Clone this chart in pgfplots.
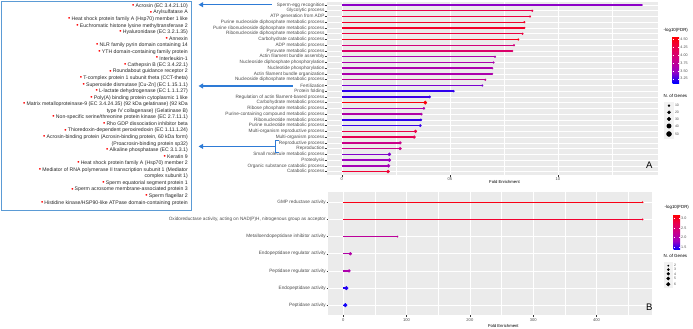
\documentclass[border=0pt]{standalone}
\usepackage{pgfplots}
\pgfplotsset{compat=1.18}
\usepackage{pgfplotstable}
\usepackage{fontspec}
\setmainfont{Liberation Sans}
\usetikzlibrary{arrows.meta}

\definecolor{panelgrey}{HTML}{EBEBEB}
\definecolor{keygrey}{HTML}{F2F2F2}
\definecolor{ticktext}{HTML}{4D4D4D}
\definecolor{tickline}{HTML}{333333}
\definecolor{boxblue}{HTML}{5B9BD5}
\definecolor{arrowblue}{HTML}{2E7BD6}
\definecolor{boxtext}{HTML}{262626}
\definecolor{bulletred}{HTML}{FF0000}

% Panel A: biological process terms (row, fold enrichment, -log10 FDR, genes)
\pgfplotstableread{
row fe fdr n
1 13.90 3.45 4
2 8.81 4.25 8
3 8.71 4.30 8
4 8.45 4.40 8
5 8.45 4.40 8
6 8.36 4.30 8
7 8.17 4.50 8
8 7.97 3.95 8
9 7.89 4.05 8
10 7.09 3.62 8
11 7.02 3.62 8
12 6.96 3.62 8
13 6.96 3.62 8
14 6.64 3.80 8
15 6.50 3.40 8
16 5.17 3.22 10
17 4.06 3.26 12
18 3.86 4.55 24
19 3.80 3.62 11
20 3.68 3.66 12
21 3.66 3.22 12
22 3.63 3.24 12
23 3.41 4.25 17
24 3.35 4.20 17
25 2.70 3.85 17
26 2.70 3.85 17
27 2.20 3.42 21
28 2.20 3.50 21
29 2.16 3.56 21
30 2.14 4.35 21
}\bioA

% Panel B: molecular function terms
\pgfplotstableread{
row fe fdr n
1 472.6 3.10 2
2 472.6 2.95 2
3 85.6 2.15 2
4 11.3 2.05 4
5 9.2 2.00 4
6 5.0 1.45 6
7 3.4 1.40 6
}\molB

% size keys
\pgfplotstableread{
y n
105.7 10
112.3 20
119.0 30
126.0 40
134.0 50
}\keyA
\pgfplotstableread{
y n
265.7 2
269.6 3
273.8 4
278.5 5
284.2 6
}\keyB

% lollipop stick: a thin bar from the point back to x = 0
% (\stickLen is the stick length in pt, set per point)
\pgfdeclareplotmark{stick}{%
  \pgfpathrectangle{\pgfpoint{-\stickLen pt}{-0.7pt}}{\pgfpoint{\stickLen pt}{1.4pt}}%
  \pgfusepathqfill}

% protein list entries: bulleted line, and continuation line
\newcommand\prot[2]{\node (p) at (188,#1) {#2};
  \node[text=bulletred, font=\fontsize{6.5}{6}\selectfont, xshift=-0.8pt, yshift=0.1pt] at (p.west) {•};}
\newcommand\cont[2]{\node at (188,#1) {#2};}

\pgfplotsset{
  ggpanel/.style={
    scale only axis,
    axis background/.style={fill=panelgrey},
    axis line style={draw=none},
    y dir=reverse,
    xmajorgrids, ymajorgrids, xminorgrids,
    major grid style={white, line width=0.55pt},
    minor grid style={white, line width=0.3pt},
    tick align=outside, major tick length=1.5pt, minor tick length=0pt,
    tick style={tickline, line width=0.4pt},
    xtick pos=left, ytick pos=left,
    ticklabel style={text=ticktext},
    xticklabel style={inner sep=1pt, font=\fontsize{4.1}{5}\selectfont},
    yticklabel style={inner sep=0.6pt, font=\fontsize{4.7}{5}\selectfont},
    /pgf/number format/assume math mode=true,
    colormap={ggbr}{rgb255(0cm)=(0,0,255); rgb255(1cm)=(154,0,195); rgb255(2cm)=(202,0,137); rgb255(3cm)=(232,0,79); rgb255(4cm)=(255,0,0)},
  },
  ggbar/.style={colorbar style={
    scale only axis, y dir=normal,
    axis line style={draw=none},
    ytick pos=both, yticklabel pos=right,
    tick align=inside, major tick length=1.3pt,
    ytick style={white, line width=0.3pt},
    yticklabel style={text=ticktext, font=\fontsize{3.7}{4}\selectfont, inner sep=1pt,
      /pgf/number format/fixed, /pgf/number format/fixed zerofill,
      /pgf/number format/precision=#1, /pgf/number format/assume math mode=true},
  }},
  % stick layer and dot layer of a lollipop chart; #1 = pt per x unit
  sticks/.style={scatter, only marks, mark=stick,
    scatter/use mapped color={draw=none, fill=mapped color},
    point meta=\thisrow{fdr},
    visualization depends on={#1*\thisrow{fe} \as \stickLen}},
  dots/.style={scatter, only marks, mark=*,
    scatter/use mapped color={draw=mapped color, fill=mapped color},
    point meta=\thisrow{fdr},
    visualization depends on={\thisrow{n}\as\ngen}},
  sizekey/.style={
    scale only axis, hide axis, clip=false, y dir=reverse,
    xmin=664, xmax=675, width=11pt,
  },
}

\begin{document}
\begin{tikzpicture}
\path[use as bounding box] (0,0) rectangle (693pt,329pt);

% ---------------- Panel A ----------------
\begin{axis}[ggpanel, at={(326.7pt,327.44pt)}, anchor=north west,
  width=331.6pt, height=173.44pt,
  xmin=-0.7, xmax=14.65, ymin=0.4, ymax=30.6,
  xtick={0,5,10}, xticklabels={0,05,10}, minor xtick={2.5,7.5,12.5},
  ytick={1,...,30},
  yticklabels={Sperm-egg recognition, Glycolytic process, ATP generation from ADP,
    Purine nucleoside diphosphate metabolic process,
    Purine ribonucleoside diphosphate metabolic process,
    Ribonucleoside diphosphate metabolic process, Carbohydrate catabolic process,
    ADP metabolic process, Pyruvate metabolic process, Actin filament bundle assembly,
    Nucleoside diphosphate phosphorylation, Nucleotide phosphorylation,
    Actin filament bundle organization, Nucleoside diphosphate metabolic process,
    Fertilization, Protein folding, Regulation of actin filament-based process,
    Carbohydrate metabolic process, Ribose phosphate metabolic process,
    Purine-containing compound metabolic process, Ribonucleotide metabolic process,
    Purine nucleotide metabolic process, Multi-organism reproductive process,
    Multi-organism process, Reproductive process, Reproduction,
    Small molecule metabolic process, Proteolysis, Organic substance catabolic process,
    Catabolic process},
  point meta min=3.11, point meta max=4.59,
  colorbar, ggbar=2,
  colorbar style={at={(parent axis.north east)}, anchor=north west,
    xshift=5.7pt, yshift=-35.2pt, width=6.7pt, height=46.3pt,
    ytick={3.25,3.5,3.75,4,4.25,4.5}},
]
% 331.6pt / 15.35 units
\addplot[sticks=21.6026] table[x=fe, y=row] {\bioA};
\addplot[dots, scatter/@pre marker code/.append style={/tikz/mark size={sqrt(max(0.05,1+0.131*(\ngen-10)))}}]
  table[x=fe, y=row] {\bioA};
\end{axis}

% ---------------- Panel B ----------------
\begin{axis}[ggpanel, at={(328pt,137pt)}, anchor=north west,
  width=324.3pt, height=123.5pt,
  xmin=-24, xmax=488, ymin=0.4, ymax=7.6,
  xtick={0,100,200,300,400}, minor xtick={50,150,250,350,450},
  ytick={1,...,7},
  yticklabels={GMP reductase activity,
    {Oxidoreductase activity, acting on NAD(P)H, nitrogenous group as acceptor},
    Metalloendopeptidase inhibitor activity, Endopeptidase regulator activity,
    Peptidase regulator activity, Endopeptidase activity, Peptidase activity},
  point meta min=1.35, point meta max=3.22,
  colorbar, ggbar=1,
  colorbar style={at={(parent axis.north east)}, anchor=north west,
    xshift=12.7pt, yshift=-22.3pt, width=6.5pt, height=35.7pt,
    ytick={1.5,2,2.5,3}},
]
% 324.3pt / 512 units
\addplot[sticks=0.63340] table[x=fe, y=row] {\molB};
\addplot[dots, scatter/@pre marker code/.append style={/tikz/mark size={sqrt(0.45+0.725*(\ngen-2))}}]
  table[x=fe, y=row] {\molB};
\end{axis}

% ---------------- size keys ----------------
\fill[keygrey] (664pt,{329pt-102pt}) rectangle (673.5pt,{329pt-139pt});
\fill[keygrey] (663.5pt,{329pt-262pt}) rectangle (673pt,{329pt-288pt});
\begin{axis}[sizekey, at={(664pt,227pt)}, anchor=north west, ymin=102, ymax=139, height=37pt]
\addplot[scatter, only marks, mark=*, scatter/use mapped color={draw=black, fill=black},
  point meta=\thisrow{n}, visualization depends on={\thisrow{n}\as\ngen},
  scatter/@pre marker code/.append style={/tikz/mark size={sqrt(1+0.131*(\ngen-10))}}]
  table[x expr=669, y=y] {\keyA};
\end{axis}
\begin{axis}[sizekey, at={(664pt,67pt)}, anchor=north west, ymin=262, ymax=290, height=28pt]
\addplot[scatter, only marks, mark=*, scatter/use mapped color={draw=black, fill=black},
  point meta=\thisrow{n}, visualization depends on={\thisrow{n}\as\ngen},
  scatter/@pre marker code/.append style={/tikz/mark size={sqrt(0.45+0.725*(\ngen-2))}}]
  table[x expr=668.3, y=y] {\keyB};
\end{axis}

% ---------------- annotations (top-left origin) ----------------
\begin{scope}[shift={(0pt,329pt)}, x=1pt, y=-1pt]
  % legend titles and labels
  \begin{scope}[every node/.style={inner sep=0pt, anchor=west, font=\fontsize{4.4}{4}\selectfont}]
    \node at (663.5,30.7) {-log10(FDR)};
    \node at (663.5,95.5) {N. of Genes};
    \node at (664.5,207.3) {-log10(FDR)};
    \node at (663.5,255.5) {N. of Genes};
  \end{scope}
  \begin{scope}[every node/.style={inner sep=0pt, anchor=west, text=ticktext, font=\fontsize{3.5}{4}\selectfont}]
    \node at (674.8,105.7) {10};
    \node at (674.8,112.3) {20};
    \node at (674.8,119.0) {30};
    \node at (674.8,126.0) {40};
    \node at (674.8,134.0) {50};
    \node at (673.8,265.7) {2};
    \node at (673.8,269.6) {3};
    \node at (673.8,273.8) {4};
    \node at (673.8,278.5) {5};
    \node at (673.8,284.2) {6};
  \end{scope}
  % axis titles
  \node[font=\fontsize{4.2}{4}\selectfont, inner sep=0pt] at (504.5,182.2) {Fold Enrichment};
  \node[font=\fontsize{4.2}{4}\selectfont, inner sep=0pt] at (503.3,326) {Fold Enrichment};
  % panel letters
  \node[font=\fontsize{9.5}{10}\selectfont, inner sep=0pt] at (649.3,165.7) {A};
  \node[font=\fontsize{9.5}{10}\selectfont, inner sep=0pt] at (649.3,307.3) {B};

  % protein list
  \draw[boxblue, line width=1pt] (1.2,1.2) rectangle (191.5,210.2);
  \begin{scope}[every node/.style={anchor=east, inner sep=0pt, text=boxtext, font=\fontsize{5.15}{5}\selectfont}]
    \prot{6.0}{Acrosin (EC 3.4.21.10)}
    \prot{12.6}{Arylsulfatase A}
    \prot{19.1}{Heat shock protein family A (Hsp70) member 1 like}
    \prot{25.7}{Euchromatic histone lysine methyltransferase 2}
    \prot{32.2}{Hyaluronidase (EC 3.2.1.35)}
    \prot{38.8}{Annexin}
    \prot{45.3}{NLR family pyrin domain containing 14}
    \prot{51.9}{YTH domain-containing family protein}
    \prot{58.5}{Interleukin-1}
    \prot{65.0}{Cathepsin B (EC 3.4.22.1)}
    \prot{71.6}{Roundabout guidance receptor 2}
    \prot{78.1}{T-complex protein 1 subunit theta (CCT-theta)}
    \prot{84.7}{Superoxide dismutase [Cu-Zn] (EC 1.15.1.1)}
    \prot{91.2}{L-lactate dehydrogenase (EC 1.1.1.27)}
    \prot{97.8}{Poly(A) binding protein cytoplasmic 1 like}
    \prot{104.4}{Matrix metalloproteinase-9 (EC 3.4.24.35) (92 kDa gelatinase) (92 kDa}
    \cont{110.9}{type IV collagenase) (Gelatinase B)}
    \prot{117.5}{Non-specific serine/threonine protein kinase (EC 2.7.11.1)}
    \prot{124.0}{Rho GDP dissociation inhibitor beta}
    \prot{130.6}{Thioredoxin-dependent peroxiredoxin (EC 1.11.1.24)}
    \prot{137.1}{Acrosin-binding protein (Acrosin-binding protein, 60 kDa form)}
    \cont{143.7}{(Proacrosin-binding protein sp32)}
    \prot{150.3}{Alkaline phosphatase (EC 3.1.3.1)}
    \prot{156.8}{Keratin 9}
    \prot{163.4}{Heat shock protein family A (Hsp70) member 2}
    \prot{169.9}{Mediator of RNA polymerase II transcription subunit 1 (Mediator}
    \cont{176.5}{complex subunit 1)}
    \prot{183.0}{Sperm equatorial segment protein 1}
    \prot{189.6}{Sperm acrosome membrane-associated protein 3}
    \prot{196.2}{Sperm flagellar 2}
    \prot{202.7}{Histidine kinase/HSP90-like ATPase domain-containing protein}
  \end{scope}

  % arrows from terms to the protein list
  \begin{scope}[arrowblue, line width=1.1pt]
    \draw[-{Triangle[length=4.5pt,width=4.8pt]}] (271.5,4.7) -- (198.5,4.7);
    \draw[-{Triangle[length=4.5pt,width=4.8pt]}] (292.5,86.0) -- (198.5,86.0);
    \draw[line width=0.9pt] (278.5,140.2) -- (275.3,140.2) -- (275.3,152.6) -- (278.5,152.6);
    \draw[-{Triangle[length=4.5pt,width=4.8pt]}] (275.3,146.4) -- (198.5,146.4);
  \end{scope}
\end{scope}
\end{tikzpicture}
\end{document}
